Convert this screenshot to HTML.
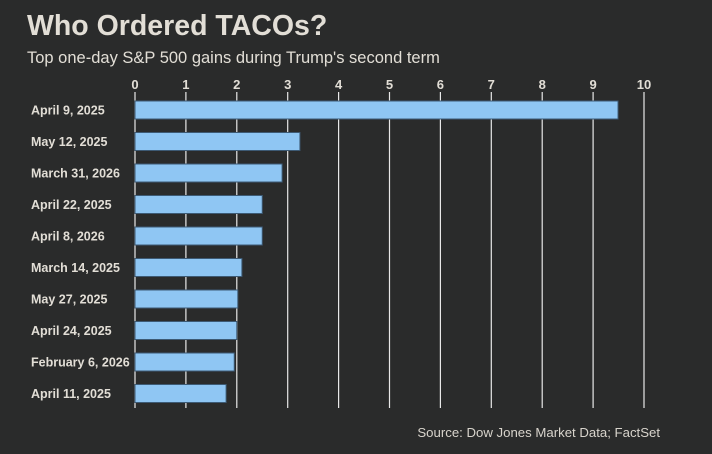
<!DOCTYPE html>
<html><head><meta charset="utf-8"><style>
html,body{margin:0;padding:0;background:#2a2b2b;width:712px;height:454px;overflow:hidden;font-family:"Liberation Sans",sans-serif}
svg{display:block}
</style></head><body>
<svg width="712" height="454">
<rect width="712" height="454" fill="#2a2b2b"/>
<text x="27" y="35" font-size="28.5" font-weight="bold" fill="#e2ded6">Who Ordered TACOs?</text>
<text x="27" y="63" font-size="16.5" fill="#e2ded6">Top one-day S&amp;P 500 gains during Trump's second term</text>
<g id="grid"></g><g id="bars"></g>
<text x="660" y="437" font-size="13.2" text-anchor="end" fill="#d8d4cc">Source: Dow Jones Market Data; FactSet</text>
</svg>
<script>
const categories=["April 9, 2025","May 12, 2025","March 31, 2026","April 22, 2025","April 8, 2026","March 14, 2025","May 27, 2025","April 24, 2025","February 6, 2026","April 11, 2025"];
const values=[9.49,3.24,2.89,2.50,2.50,2.10,2.02,2.00,1.95,1.79];
const ticks=[0,1,2,3,4,5,6,7,8,9,10];
const NS="http://www.w3.org/2000/svg";
const x=v=>135+v*50.9;
const y=i=>110+i*31.5;
const g=document.getElementById('grid'),b=document.getElementById('bars');
function mk(t,a,p){const e=document.createElementNS(NS,t);for(const k in a)e.setAttribute(k,a[k]);p.appendChild(e);return e;}
ticks.forEach(t=>{
 const l=mk('line',{x1:x(t),x2:x(t),y1:92,y2:408,stroke:'#e8e8e8','stroke-width':1.2},g);
 
 
 const tx=mk('text',{x:x(t),y:89,'font-size':13,'font-weight':'bold','text-anchor':'middle',fill:'#e2ded6'},g);
 tx.textContent=t;
 
 
});
categories.forEach((c,i)=>{
 const r=mk('rect',{x:x(0),y:y(i)-9,width:x(values[i])-x(0),height:18,fill:'#8fc6f3',stroke:'#3d5a74','stroke-width':1},b);
 
 
 const t=mk('text',{x:31,y:y(i)+4.5,'font-size':12.5,'font-weight':'bold',fill:'#e2ded6'},b);
 t.textContent=c;
 
 
});
</script>
</body></html>
